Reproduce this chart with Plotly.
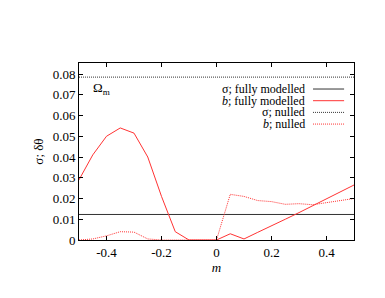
import plotly.graph_objects as go

m = [-0.5, -0.45, -0.4, -0.35, -0.3, -0.25, -0.2, -0.15, -0.1, -0.05, 0.0,
     0.05, 0.1, 0.15, 0.2, 0.25, 0.3, 0.35, 0.4, 0.45, 0.5]
b_full = [0.029, 0.041, 0.050, 0.054, 0.0515, 0.040, 0.021, 0.004, 0.0, 0.0, 0.0,
          0.003, 0.0005, 0.0037, 0.007, 0.010, 0.0132, 0.0165, 0.020, 0.0233, 0.0265]
b_null = [0.0, 0.0005, 0.002, 0.004, 0.0038, 0.0005, 0.0, 0.0, 0.0, 0.0, 0.0,
          0.022, 0.021, 0.019, 0.0185, 0.0172, 0.0175, 0.017, 0.018, 0.019, 0.020]
sigma_full = [0.0123] * len(m)
sigma_null = [0.0785] * len(m)

names = ["σ; fully modelled", "<i>b</i>; fully modelled", "σ; nulled", "<i>b</i>; nulled"]
series = [sigma_full, b_full, sigma_null, b_null]
colors = ["#333333", "#ff3333", "#333333", "#ff3333"]
dashes = ["solid", "solid", "1px,1px", "1px,1px"]

FONT = "Liberation Serif"
fig = go.Figure()
for s, c, d, n in zip(series, colors, dashes, names):
    fig.add_trace(go.Scatter(x=m, y=s, mode="lines", name=n,
                             line=dict(color=c, width=1, dash=d), showlegend=False))

# custom legend (text right-aligned, sample on right)
rows_y = [0.853, 0.787, 0.721, 0.655]
for n, c, d, yy in zip(names, colors, dashes, rows_y):
    fig.add_annotation(xref="paper", yref="paper", x=0.828, y=yy, text=n,
                       showarrow=False, xanchor="right", yanchor="middle",
                       font=dict(family=FONT, size=12, color="#000"))
    fig.add_shape(type="line", xref="paper", yref="paper", x0=0.851, x1=0.964,
                  y0=yy, y1=yy, line=dict(color=c, width=1, dash=d))

fig.add_annotation(xref="paper", yref="paper", x=0.045, y=0.855, text="Ω<sub>m</sub>",
                   showarrow=False, xanchor="left", yanchor="middle",
                   font=dict(family=FONT, size=13, color="#000"))

axis_common = dict(showgrid=False, zeroline=False, showline=True, mirror="ticks",
                   linecolor="#000", linewidth=1, ticks="inside", ticklen=4,
                   tickcolor="#000", tickfont=dict(family=FONT, size=13, color="#000"))
fig.update_xaxes(range=[-0.5, 0.5], tickvals=[-0.4, -0.2, 0, 0.2, 0.4],
                 ticktext=["-0.4", "-0.2", "0", "0.2", "0.4"],
                 title=dict(text="<i>m</i>", font=dict(family=FONT, size=13, color="#000"), standoff=2),
                 **axis_common)
fig.update_yaxes(range=[0, 0.0853], tickvals=[0, 0.01, 0.02, 0.03, 0.04, 0.05, 0.06, 0.07, 0.08],
                 ticktext=["0", "0.01", "0.02", "0.03", "0.04", "0.05", "0.06", "0.07", "0.08"],
                 title=dict(text="σ; δθ", font=dict(family=FONT, size=13, color="#000"), standoff=6),
                 **axis_common)
fig.update_layout(width=377, height=290, margin=dict(l=71, r=31, t=55, b=58),
                  plot_bgcolor="white", paper_bgcolor="white",
                  font=dict(family=FONT, size=13, color="#000"))
fig.write_html("out.html")
